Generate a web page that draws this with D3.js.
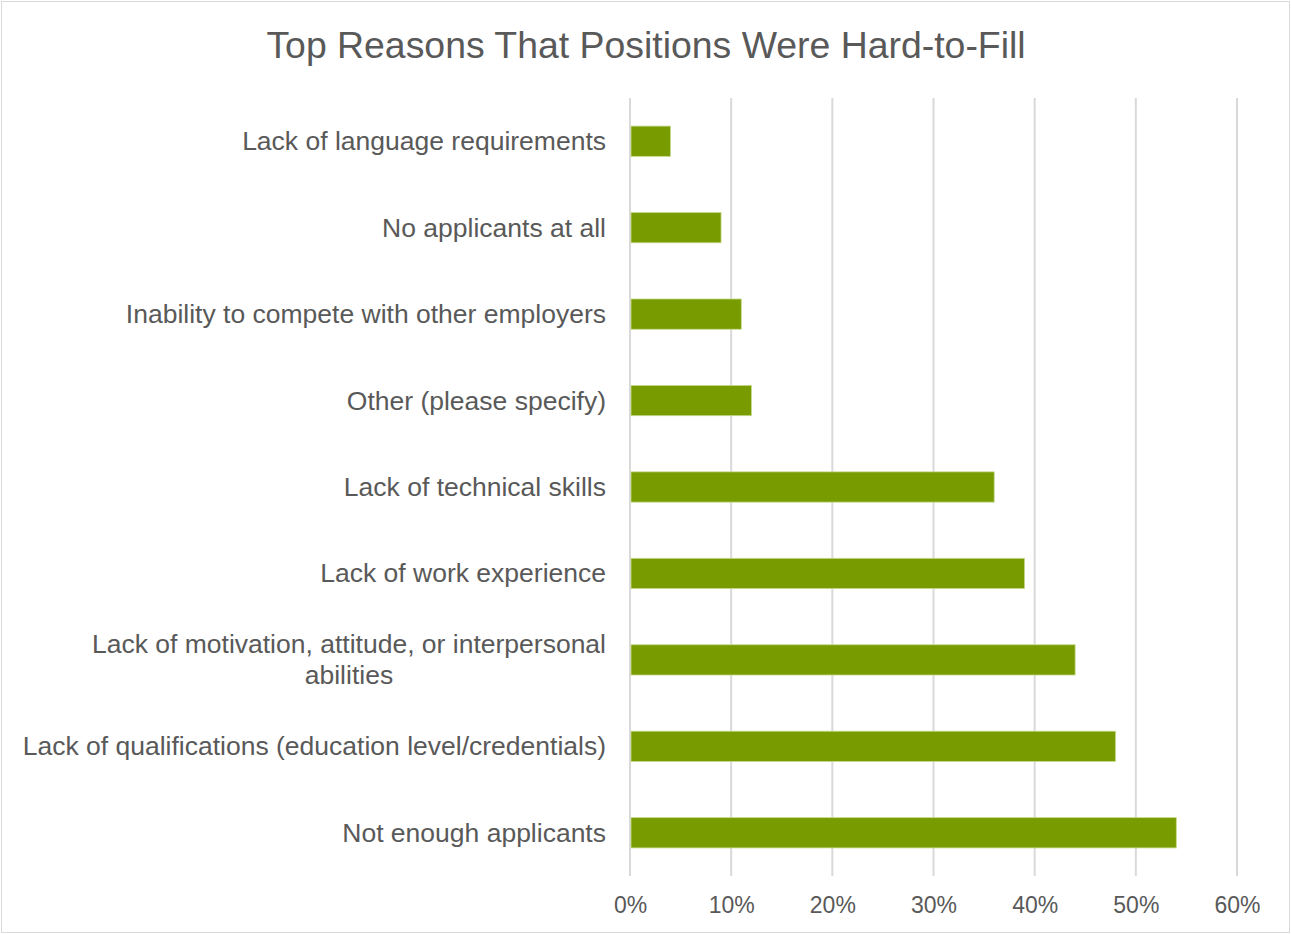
<!DOCTYPE html>
<html>
<head>
<meta charset="utf-8">
<script src="https://cdn.jsdelivr.net/npm/d3@7"></script>
<style>
  html, body { margin: 0; padding: 0; background: #fff; }
  svg { display: block; font-family: "Liberation Sans", Arial, sans-serif; }
</style>
</head>
<body>
<svg id="chart" width="1291" height="934"></svg>
<script>
// Survey responses: share of employers citing each reason (top to bottom)
const categories = [
  "Lack of language requirements",
  "No applicants at all",
  "Inability to compete with other employers",
  "Other (please specify)",
  "Lack of technical skills",
  "Lack of work experience",
  "Lack of motivation, attitude, or interpersonal abilities",
  "Lack of qualifications (education level/credentials)",
  "Not enough applicants"
];
const values = [0.04, 0.09, 0.11, 0.12, 0.36, 0.39, 0.44, 0.48, 0.54];
const tickValues = [0, 0.1, 0.2, 0.3, 0.4, 0.5, 0.6];
const title = "Top Reasons That Positions Were Hard-to-Fill";

// Labels that wrap onto two lines
const wrapped = {
  "Lack of motivation, attitude, or interpersonal abilities":
    ["Lack of motivation, attitude, or interpersonal", "abilities"]
};

const svg = d3.select("#chart");
const W = 1291, H = 934;
const plot = { left: 630, right: 1237, top: 98, bottom: 876 };
const textColor = "#595959";

// Chart frame
svg.append("rect")
  .attr("x", 1.5).attr("y", 1.5)
  .attr("width", W - 3).attr("height", H - 3)
  .attr("fill", "#fff").attr("stroke", "#d9d9d9").attr("stroke-width", 1);

svg.append("text")
  .attr("x", 646).attr("y", 58)
  .attr("text-anchor", "middle")
  .attr("font-size", 37.4)
  .attr("fill", textColor)
  .text(title);

const x = d3.scaleLinear().domain([0, 0.6]).range([plot.left, plot.right]);
const y = d3.scaleBand().domain(categories)
  .range([plot.top, plot.bottom]).paddingInner(0.65).paddingOuter(0.325);

// Vertical gridlines
svg.append("g").selectAll("line")
  .data(tickValues)
  .join("line")
  .attr("x1", d => x(d)).attr("x2", d => x(d))
  .attr("y1", plot.top).attr("y2", plot.bottom)
  .attr("stroke", "#d9d9d9").attr("stroke-width", 2);

// Bars
svg.append("g").selectAll("rect")
  .data(categories.map((c, i) => ({ c, v: values[i] })))
  .join("rect")
  .attr("x", x(0) + 1)
  .attr("y", d => y(d.c))
  .attr("width", d => x(d.v) - x(0) - 1)
  .attr("height", y.bandwidth())
  .attr("fill", "#789b00")
  .attr("stroke", "#c5d98a").attr("stroke-width", 0.8);

// X axis tick labels
const xAxis = d3.axisBottom(x).tickValues(tickValues)
  .tickFormat(d3.format(".0%")).tickSize(0).tickPadding(0);
const gx = svg.append("g").attr("transform", `translate(0,${plot.bottom + 37})`).call(xAxis);
gx.select(".domain").remove();
gx.selectAll("text")
  .attr("font-size", 23)
  .attr("font-family", "Liberation Sans, Arial, sans-serif")
  .attr("fill", textColor)
  .attr("dy", 0);

// Category labels
const labelX = 606;
const lg = svg.append("g");
categories.forEach(c => {
  const cy = y(c) + y.bandwidth() / 2;
  const lines = wrapped[c] || [c];
  const lh = 31;
  const t = lg.append("text")
    .attr("font-size", 26.5)
    .attr("fill", textColor)
    .attr("text-anchor", lines.length > 1 ? "middle" : "end");
  if (lines.length === 1) {
    t.attr("x", labelX).attr("y", cy + 9).text(c);
  } else {
    // center multi-line block, right-aligned on its widest line
    t.text(lines[0]).attr("x", 0).attr("y", 0);
    const w = t.node().getComputedTextLength();
    const cx = labelX - w / 2;
    t.text(null);
    lines.forEach((ln, i) => {
      t.append("tspan")
        .attr("x", cx)
        .attr("y", cy + 9 + (i - (lines.length - 1) / 2) * lh)
        .text(ln);
    });
  }
});
</script>
</body>
</html>
